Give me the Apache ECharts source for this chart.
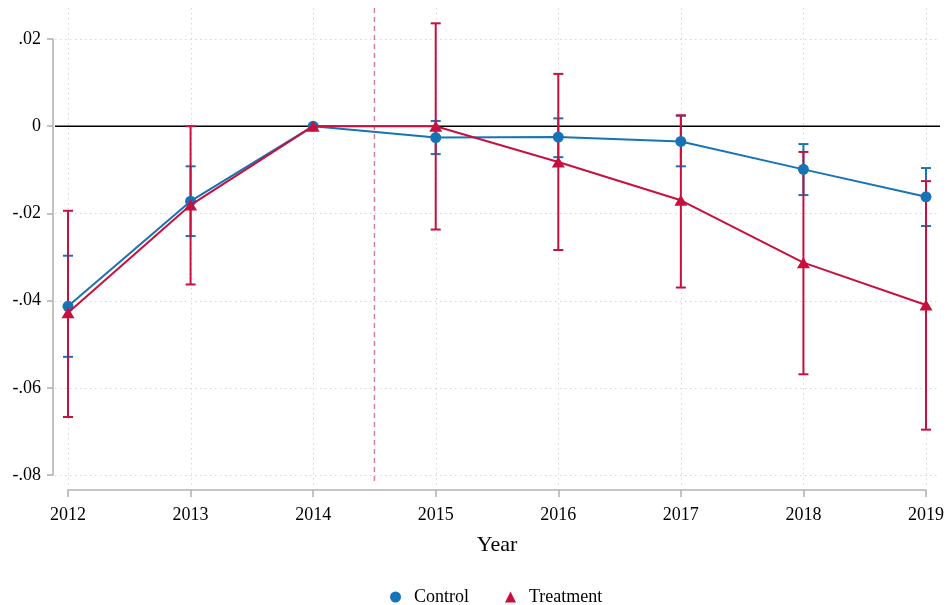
<!DOCTYPE html>
<html>
<head>
<meta charset="utf-8">
<script src="https://cdn.jsdelivr.net/npm/echarts@6/dist/echarts.min.js"></script>
<style>
  html, body { margin: 0; padding: 0; background: #fff; }
  #chart { width: 948px; height: 605px; }
</style>
</head>
<body>
<div id="chart"></div>
<script>
// Event-study estimates by year, with 95% confidence intervals
const years = [2012, 2013, 2014, 2015, 2016, 2017, 2018, 2019];

const controlEst  = [-0.0413, -0.0172, 0, -0.0026, -0.0025, -0.0035, -0.0099, -0.0162];
const controlLow  = [-0.0529, -0.0252, 0, -0.0064, -0.0071, -0.0092, -0.0158, -0.0229];
const controlHigh = [-0.0297, -0.0092, 0,  0.0012,  0.0018,  0.0024, -0.0041, -0.0096];

const treatEst  = [-0.0428, -0.0181, 0,  0.0000, -0.0082, -0.0170, -0.0313, -0.0410];
const treatLow  = [-0.0667, -0.0363, 0, -0.0237, -0.0284, -0.0370, -0.0569, -0.0696];
const treatHigh = [-0.0194,  0.0000, 0,  0.0236,  0.0120,  0.0025, -0.0059, -0.0126];

const yTicks = [-0.08, -0.06, -0.04, -0.02, 0, 0.02];
const yTickLabels = ['-.08', '-.06', '-.04', '-.02', '0', '.02'];

const treatmentStart = 2014.5;

const BLUE = '#1673b5';
const RED = '#c8103e';
const FONT = '"Liberation Serif", "Times New Roman", serif';

// The plot region reaches a little past the labelled axis range
const PAD = { left: 13, right: 14, top: 31, bottom: 10 };

function rows(xs, lo, hi) {
  return xs.map((x, i) => [x, lo[i], hi[i]]);
}

function errorBars(color, data) {
  return {
    type: 'custom',
    z: 3,
    clip: false,
    silent: true,
    data: data,
    encode: { x: 0, y: [1, 2] },
    renderItem: function (params, api) {
      const x = api.value(0), lo = api.value(1), hi = api.value(2);
      if (lo === hi) return null;
      const a = api.coord([x, hi]);
      const b = api.coord([x, lo]);
      const half = 5;
      const style = { stroke: color, lineWidth: 2, fill: null };
      return {
        type: 'group',
        children: [
          { type: 'line', shape: { x1: a[0], y1: a[1], x2: b[0], y2: b[1] }, style: style },
          { type: 'line', shape: { x1: a[0] - half, y1: a[1], x2: a[0] + half, y2: a[1] }, style: style },
          { type: 'line', shape: { x1: b[0] - half, y1: b[1], x2: b[0] + half, y2: b[1] }, style: style }
        ]
      };
    }
  };
}

// Background rules: dotted grid at each tick, solid zero line, dashed treatment marker
const guides = {
  type: 'custom',
  z: 1,
  silent: true,
  clip: false,
  data: [0],
  renderItem: function (params, api) {
    const cs = params.coordSys;
    const left = cs.x - PAD.left, right = cs.x + cs.width + PAD.right;
    const top = cs.y - PAD.top, bottom = cs.y + cs.height + PAD.bottom;
    const grid = { stroke: '#d6d6d6', lineWidth: 1, lineDash: [1.5, 3.5] };
    const children = [];
    yTicks.forEach(function (v) {
      if (v === 0) return;
      const y = Math.round(api.coord([years[0], v])[1]) + 0.5;
      children.push({ type: 'line', shape: { x1: left, y1: y, x2: right, y2: y }, style: grid });
    });
    years.forEach(function (yr) {
      const x = Math.round(api.coord([yr, 0])[0]) + 0.5;
      children.push({ type: 'line', shape: { x1: x, y1: top, x2: x, y2: bottom }, style: grid });
    });
    const y0 = api.coord([years[0], 0])[1];
    children.push({ type: 'line', shape: { x1: left, y1: y0, x2: right, y2: y0 },
      style: { stroke: '#000', lineWidth: 1.6 } });
    const xv = api.coord([treatmentStart, 0])[0];
    children.push({ type: 'line', shape: { x1: xv, y1: top, x2: xv, y2: bottom },
      style: { stroke: '#d77fa3', lineWidth: 1.5, lineDash: [5, 4] } });
    return { type: 'group', children: children };
  }
};

const chart = echarts.init(document.getElementById('chart'), null, { renderer: 'canvas' });

chart.setOption({
  animation: false,
  backgroundColor: '#ffffff',
  textStyle: { fontFamily: FONT },
  grid: { left: 68, right: 22, top: 39, bottom: 130, containLabel: false },
  xAxis: {
    type: 'value',
    min: 2012,
    max: 2019,
    interval: 1,
    offset: 15,
    name: 'Year',
    nameLocation: 'middle',
    nameGap: 44,
    nameTextStyle: { fontFamily: FONT, fontSize: 22, color: '#000' },
    axisLine: { show: true, onZero: false, lineStyle: { color: '#b3b3b3', width: 1.6 } },
    axisTick: { show: true, length: 7, lineStyle: { color: '#b3b3b3', width: 1.6 } },
    axisLabel: { fontFamily: FONT, fontSize: 18, color: '#000', margin: 16,
      formatter: function (v) { return String(v); } },
    splitLine: { show: false }
  },
  yAxis: {
    type: 'value',
    min: -0.08,
    max: 0.02,
    interval: 0.02,
    offset: 15,
    axisLine: { show: true, onZero: false, lineStyle: { color: '#b3b3b3', width: 1.6 } },
    axisTick: { show: true, length: 6, lineStyle: { color: '#b3b3b3', width: 1.6 } },
    axisLabel: { fontFamily: FONT, fontSize: 18, color: '#000', margin: 12,
      formatter: function (v) {
        const i = yTicks.findIndex(function (t) { return Math.abs(t - v) < 1e-9; });
        return i >= 0 ? yTickLabels[i] : '';
      } },
    splitLine: { show: false }
  },
  legend: {
    top: 583,
    left: 385,
    itemWidth: 11,
    itemHeight: 11,
    itemGap: 36,
    textStyle: { fontFamily: FONT, fontSize: 18, color: '#000', padding: [0, 0, 0, 8] },
    data: [
      { name: 'Control', icon: 'circle', itemStyle: { color: BLUE } },
      { name: 'Treatment', icon: 'triangle', itemStyle: { color: RED } }
    ]
  },
  series: [
    guides,
    errorBars(BLUE, rows(years, controlLow, controlHigh)),
    {
      type: 'line',
      name: 'Control',
      z: 4,
      clip: false,
      data: years.map((y, i) => [y, controlEst[i]]),
      color: BLUE,
      symbol: 'circle',
      symbolSize: 11,
      lineStyle: { color: BLUE, width: 2 },
      itemStyle: { color: BLUE }
    },
    errorBars(RED, rows(years, treatLow, treatHigh)),
    {
      type: 'line',
      name: 'Treatment',
      z: 5,
      clip: false,
      data: years.map((y, i) => [y, treatEst[i]]),
      color: RED,
      symbol: 'triangle',
      symbolSize: [13, 11],
      lineStyle: { color: RED, width: 2 },
      itemStyle: { color: RED }
    }
  ]
});
</script>
</body>
</html>
